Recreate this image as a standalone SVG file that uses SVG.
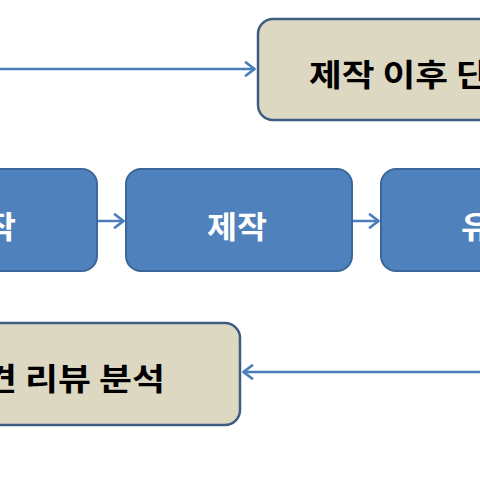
<svg xmlns="http://www.w3.org/2000/svg" width="480" height="480" viewBox="0 0 480 480">
<style>
.tan{fill:#ddd8c2;stroke:#3d5c82;stroke-width:2.5}
.blue{fill:#4f81bd;stroke:#3b679c;stroke-width:2}
.dk{font-family:"Noto Sans CJK KR","Noto Sans",sans-serif;font-weight:bold;font-size:31px;fill:#000}
.wt{font-family:"Noto Sans CJK KR","Noto Sans",sans-serif;font-weight:bold;font-size:31px;fill:#fff}
.conn{stroke:#4a7ebb;stroke-width:2.5;fill:none}
</style>
<defs>
<marker id="ah" viewBox="0 0 12 16" refX="11" refY="8" markerWidth="12" markerHeight="16" markerUnits="userSpaceOnUse" orient="auto">
<path d="M2,1.5 L10.5,8 L2,14.5" fill="none" stroke="#4a7ebb" stroke-width="2.8" stroke-linecap="round" stroke-linejoin="round"/>
</marker>
</defs>
<rect width="480" height="480" fill="#fff"/>
<g id="connectors">
<line class="conn" x1="0" y1="69" x2="255" y2="69" marker-end="url(#ah)"/>
<line class="conn" x1="98" y1="221" x2="124" y2="221" marker-end="url(#ah)"/>
<line class="conn" x1="353" y1="221" x2="379" y2="221" marker-end="url(#ah)"/>
<line class="conn" x1="480" y1="372" x2="243" y2="372" marker-end="url(#ah)"/>
</g>
<g id="node-post">
<rect class="tan" x="258" y="19" width="250" height="101" rx="15"/>
<text class="dk" x="309" y="86" textLength="180" lengthAdjust="spacingAndGlyphs">제작 이후 단</text>
</g>
<g id="node-pre">
<rect class="blue" x="-140" y="169" width="237" height="102" rx="15"/>
<text class="wt" x="-15" y="238" textLength="31" lengthAdjust="spacingAndGlyphs">작</text>
</g>
<g id="node-make">
<rect class="blue" x="126" y="169" width="226" height="102" rx="15"/>
<text class="wt" x="207" y="238" textLength="60" lengthAdjust="spacingAndGlyphs">제작</text>
</g>
<g id="node-dist">
<rect class="blue" x="381" y="169" width="226" height="102" rx="15"/>
<text class="wt" x="461" y="238" textLength="31" lengthAdjust="spacingAndGlyphs">유</text>
</g>
<g id="node-review">
<rect class="tan" x="-20" y="323" width="260" height="102" rx="15"/>
<text class="dk" x="-16" y="390" textLength="181" lengthAdjust="spacingAndGlyphs">견 리뷰 분석</text>
</g>
</svg>
